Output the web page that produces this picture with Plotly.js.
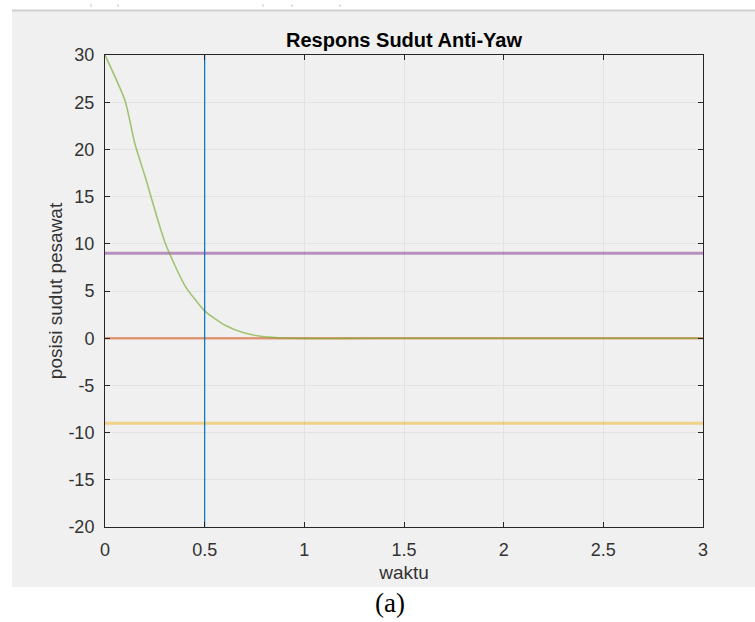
<!DOCTYPE html>
<html>
<head>
<meta charset="utf-8">
<script src="https://cdn.plot.ly/plotly-3.0.1.min.js"></script>
<style>
html,body{margin:0;padding:0;background:#ffffff;}
#chart{width:755px;height:622px;}
</style>
</head>
<body>
<div id="chart"></div>
<script>
// Data
const tResp = [0, 0.1, 0.15, 0.2, 0.3, 0.4, 0.5, 0.6, 0.7, 0.8, 0.9, 1.0, 1.1, 1.2, 1.5, 2.0, 2.5, 3.0];
const yResp = [30, 25.2, 20.6, 17.2, 10.2, 5.6, 2.9, 1.4, 0.55, 0.15, 0.02, -0.02, -0.03, -0.02, 0, 0, 0, 0];
const tRange = [0, 3];
const refZero = [0, 0];
const refUpper = [9, 9];
const refLower = [-9, -9];
const markerT = [0.5, 0.5];
const markerY = [-20, 30];
const xTicks = [0, 0.5, 1, 1.5, 2, 2.5, 3];
const xTickText = ['0', '0.5', '1', '1.5', '2', '2.5', '3'];
const yTicks = [-20, -15, -10, -5, 0, 5, 10, 15, 20, 25, 30];
const yTickText = ['-20', '-15', '-10', '-5', '0', '5', '10', '15', '20', '25', '30'];
const titleText = 'Respons Sudut Anti-Yaw';
const xTitle = 'waktu';
const yTitle = 'posisi sudut pesawat';
const caption = '(a)';

const traces = [
  {x: tRange, y: refZero, mode: 'lines', line: {color: 'rgba(217,83,25,0.55)', width: 2.5}, hoverinfo: 'skip'},
  {x: tRange, y: refLower, mode: 'lines', line: {color: 'rgba(237,177,32,0.5)', width: 3}, hoverinfo: 'skip'},
  {x: tRange, y: refUpper, mode: 'lines', line: {color: 'rgba(126,47,142,0.5)', width: 3}, hoverinfo: 'skip'},
  {x: tResp, y: yResp, mode: 'lines', line: {color: 'rgba(119,172,48,0.65)', width: 1.6, shape: 'spline', smoothing: 0.6}, hoverinfo: 'skip'},
  {x: markerT, y: markerY, mode: 'lines', line: {color: '#0072BD', width: 1.2}, hoverinfo: 'skip'}
];

// geometry of plot area in px
const L = 105, R = 703, T = 55, B = 527, W = 755, H = 622;
const pw = R - L, ph = B - T;
const px = v => (v - L) / pw;
const py = v => (B - v) / ph;

const shapes = [
  {type: 'rect', xref: 'paper', yref: 'paper', x0: px(12), x1: px(755), y0: py(587), y1: py(11), fillcolor: '#f0f0f0', line: {width: 0}, layer: 'below'},
  {type: 'line', xref: 'paper', yref: 'paper', x0: px(12), x1: px(755), y0: py(10.5), y1: py(10.5), line: {color: '#cfcfcf', width: 2}, layer: 'below'},
  {type: 'line', xref: 'paper', yref: 'paper', x0: px(91), x1: px(91), y0: py(7), y1: py(4), line: {color: '#c8c8c8', width: 1}, layer: 'below'},
  {type: 'line', xref: 'paper', yref: 'paper', x0: px(118), x1: px(118), y0: py(7), y1: py(4), line: {color: '#c8c8c8', width: 1}, layer: 'below'},
  {type: 'line', xref: 'paper', yref: 'paper', x0: px(263), x1: px(263), y0: py(7), y1: py(4), line: {color: '#c8c8c8', width: 1}, layer: 'below'},
  {type: 'line', xref: 'paper', yref: 'paper', x0: px(292), x1: px(292), y0: py(7), y1: py(4), line: {color: '#c8c8c8', width: 1}, layer: 'below'},
  {type: 'line', xref: 'paper', yref: 'paper', x0: px(340), x1: px(340), y0: py(7), y1: py(4), line: {color: '#c8c8c8', width: 1}, layer: 'below'}
];

const axisCommon = {
  showgrid: true, gridcolor: '#e3e3e3', gridwidth: 1,
  zeroline: false, showline: true, linecolor: '#262626', linewidth: 1,
  mirror: 'ticks', ticks: 'inside', ticklen: 5, tickcolor: '#262626', tickwidth: 1,
  tickfont: {family: 'Liberation Sans, Arial, sans-serif', size: 18, color: '#333333'},
  automargin: false, fixedrange: true
};

const layout = {
  width: W, height: H,
  margin: {l: L, r: W - R, t: T, b: H - B, pad: 0},
  paper_bgcolor: '#ffffff',
  plot_bgcolor: '#ffffff',
  showlegend: false,
  title: {
    text: '<b>' + titleText + '</b>',
    font: {family: 'Liberation Sans, Arial, sans-serif', size: 20, color: '#000000'},
    x: 0.5, xref: 'paper', xanchor: 'center',
    y: 1 - 40 / H, yref: 'container', yanchor: 'middle'
  },
  xaxis: Object.assign({}, axisCommon, {
    range: tRange, tickvals: xTicks, ticktext: xTickText,
    ticklabelstandoff: 6,
    title: {text: xTitle, font: {family: 'Liberation Sans, Arial, sans-serif', size: 19, color: '#333333'}, standoff: 7}
  }),
  yaxis: Object.assign({}, axisCommon, {
    range: [-20, 30], tickvals: yTicks, ticktext: yTickText,
    ticklabelstandoff: 6,
    title: {text: yTitle, font: {family: 'Liberation Sans, Arial, sans-serif', size: 19, color: '#333333'}, standoff: 0}
  }),
  shapes: shapes,
  annotations: [
    {text: caption, xref: 'paper', yref: 'paper', x: px(390), y: py(603), xanchor: 'center', yanchor: 'middle',
     showarrow: false, font: {family: 'Liberation Serif, Times New Roman, serif', size: 27, color: '#000000'}}
  ]
};

Plotly.newPlot('chart', traces, layout, {displayModeBar: false, staticPlot: true});
</script>
</body>
</html>
